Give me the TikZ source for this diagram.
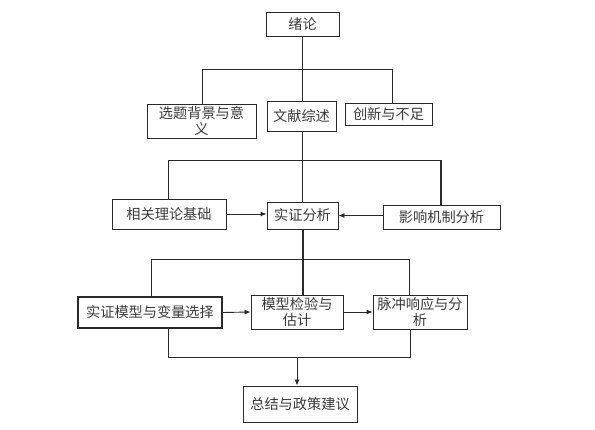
\documentclass[tikz,border=0pt]{standalone}
\usepackage{fontspec}
\newfontfamily\cjk{Noto Sans CJK SC}
\usetikzlibrary{arrows.meta}
\definecolor{ln}{HTML}{2A2A2A}
\definecolor{tx}{HTML}{3A3A3A}
\begin{document}
\begin{tikzpicture}[x=1pt,y=-1pt,
  box/.style={draw=ln,line width=0.9pt,rectangle,inner sep=0pt,align=center,
    font=\cjk\fontsize{14.2}{15.5}\selectfont,text=tx},
  conn/.style={draw=ln,line width=0.9pt},
  thk/.style={draw=ln,line width=1.6pt},
  arr/.style={conn,-{Latex[length=6pt,width=5pt]}}]
\useasboundingbox (0,0) rectangle (595,430);
\node[box,minimum width=73pt,minimum height=24pt] (xulun) at (302.5,24) {绪论};
\node[box,minimum width=109pt,minimum height=34pt] (bg) at (201.5,121) {选题背景与意\\义};
\node[box,minimum width=69pt,minimum height=30pt] (wx) at (301.5,116) {文献综述};
\node[box,minimum width=87pt,minimum height=22pt] (cx) at (388.5,114) {创新与不足};
\node[box,minimum width=114pt,minimum height=30pt] (ll) at (169,214) {相关理论基础};
\node[box,minimum width=71pt,minimum height=27pt] (sz) at (302.5,215.5) {实证分析};
\node[box,minimum width=117pt,minimum height=24pt] (yx) at (441.5,217) {影响机制分析};
\node[box,line width=1.6pt,minimum width=144pt,minimum height=31pt] (mx) at (150,312.5) {实证模型与变量选择};
\node[box,minimum width=92pt,minimum height=34pt] (jy) at (297,312) {模型检验与\\估计};
\node[box,minimum width=94pt,minimum height=34pt] (mc) at (420,312) {脉冲响应与分\\析};
\node[box,minimum width=114pt,minimum height=36pt] (zj) at (300,404) {总结与政策建议};
% level 1
\coordinate (h1) at (302.5,69);
\draw[conn] (xulun.south) -- (h1);
\draw[conn] (bg.north -| 202,0) -- (202,69) -- (392,69) -- (cx.north -| 392,0);
\draw[conn] (h1) -- (wx.north -| h1);
% level 2
\draw[conn] (wx.south -| 302,0) -- (sz.north -| 302,0);
\draw[conn] (ll.north -| 168,0) -- (168,160) -- (441,160);
\draw[thk] (441,160) -- (yx.north -| 441,0);
\draw[arr] (ll.east) -- (sz.west |- ll.east);
\draw[arr] (yx.west |- sz.east) -- (sz.east);
% level 3
\draw[thk] (sz.south -| 303,0) -- (jy.north -| 303,0);
\draw[conn] (mx.north -| 151,0) -- (151,259) -- (409,259) -- (mc.north -| 409,0);
\draw[arr] (mx.east) -- (jy.west);
\draw[arr] (jy.east) -- (mc.west);
% level 4
\coordinate (h4) at (297,357);
\draw[conn] (mx.south -| 168,0) -- (168,357) -- (410,357) -- (mc.south -| 410,0);
\draw[arr] (h4) -- (zj.north -| h4);
\end{tikzpicture}
\end{document}
